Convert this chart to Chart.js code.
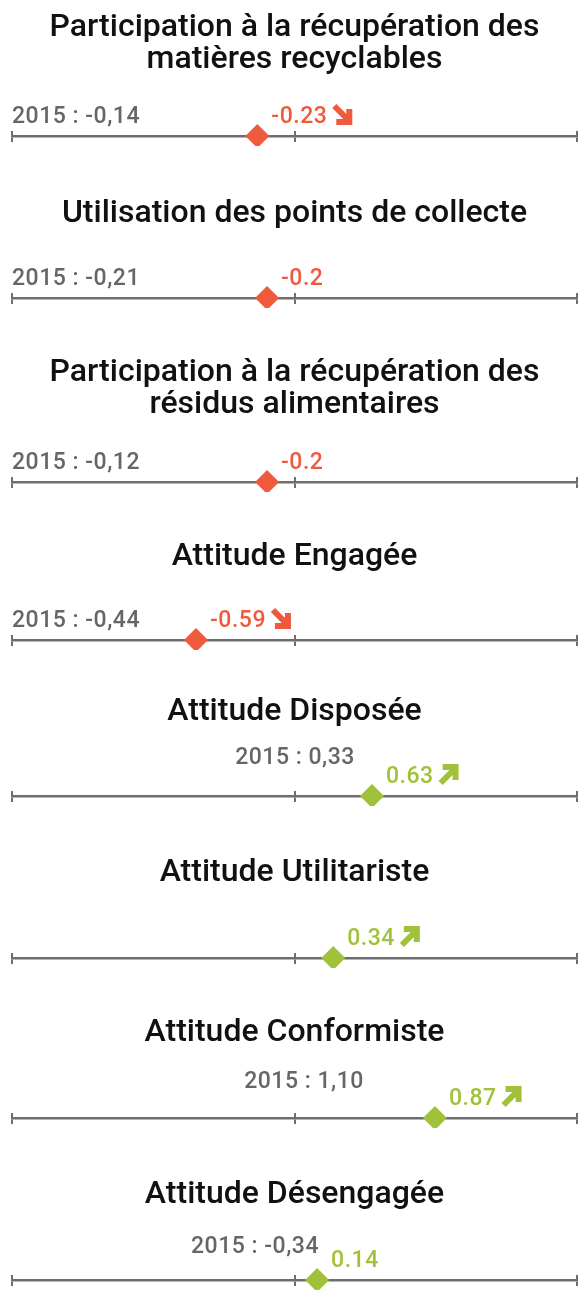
<!DOCTYPE html>
<html>
<head>
<meta charset="utf-8">
<script src="https://cdn.jsdelivr.net/npm/chart.js@4.4.1/dist/chart.umd.min.js"></script>
<style>
  body { margin: 0; background: #fff; width: 582px; height: 1290px; position: relative; overflow: hidden; }
  .panel { position: absolute; left: 0; width: 582px; }
  .panel canvas { display: block; }
</style>
</head>
<body>
<div id="wrap"></div>
<script>
// Data
const titles = [
    ['Participation à la récupération des', 'matières recyclables'],
    'Utilisation des points de collecte',
    ['Participation à la récupération des', 'résidus alimentaires'],
    'Attitude Engagée',
    'Attitude Disposée',
    'Attitude Utilitariste',
    'Attitude Conformiste',
    'Attitude Désengagée'
];
const markerValues = [-0.23, -0.17, -0.17, -0.61, 0.48, 0.24, 0.87, 0.14];
const valueLabels = ['-0.23', '-0.2', '-0.2', '-0.59', '0.63', '0.34', '0.87', '0.14'];
const trends = ['down', null, null, 'down', 'up', 'up', 'up', null];
const labels2015 = ['2015 : -0,14', '2015 : -0,21', '2015 : -0,12', '2015 : -0,44', '2015 : 0,33', null, '2015 : 1,10', '2015 : -0,34'];
const tickValues = [-1.75, 0, 1.75];

// Layout (pixels)
const panelTops = [4, 190, 349, 533, 688, 849, 1009, 1171];
const panelHeights = [142, 118, 143, 117, 118, 119, 119, 119];
const prevCenterX = [null, null, null, null, 295, null, 304, 255];
const prevRaise = [13, 13, 13, 13, 32, 0, 30, 27];

const RED = '#ef5a3d';
const GREEN = '#a2c13a';
const GREY = '#666666';
const AXIS = '#6e6e6e';
const labelFont = "500 23px Roboto, sans-serif";

function drawArrow(ctx, x, baseY, dir, color) {
    const s = 16, h = 13, top = baseY - 17;
    ctx.save();
    ctx.strokeStyle = color;
    ctx.lineWidth = 6;
    ctx.lineCap = 'butt';
    ctx.lineJoin = 'miter';
    ctx.beginPath();
    if (dir === 'down') {
        ctx.moveTo(x + 1, top);
        ctx.lineTo(x + s, top + s - 1);
        ctx.moveTo(x + s, top + s - h);
        ctx.lineTo(x + s, top + s);
        ctx.lineTo(x + s - h, top + s);
    } else {
        ctx.moveTo(x + 1, top + s + 1);
        ctx.lineTo(x + s, top + 2);
        ctx.moveTo(x + s - h, top + 1);
        ctx.lineTo(x + s, top + 1);
        ctx.lineTo(x + s, top + 1 + h);
    }
    ctx.stroke();
    ctx.restore();
}

const labelPlugin = {
    id: 'scoreLabels',
    afterDatasetsDraw(chart, args, opts) {
        const i = opts.index;
        const ctx = chart.ctx;
        const axisY = chart.chartArea.bottom;
        const mx = chart.scales.x.getPixelForValue(markerValues[i]);
        const color = markerValues[i] < 0 ? RED : GREEN;

        ctx.save();
        ctx.font = labelFont;
        ctx.textBaseline = 'alphabetic';
        ctx.letterSpacing = '0.5px';

        // current value + trend arrow
        ctx.fillStyle = color;
        ctx.textAlign = 'left';
        const tx = mx + 14, ty = axisY - 13;
        ctx.fillText(valueLabels[i], tx, ty);
        const w = ctx.measureText(valueLabels[i]).width;
        if (trends[i]) drawArrow(ctx, tx + w + 6, ty, trends[i], color);

        // 2015 reference
        if (labels2015[i]) {
            ctx.fillStyle = GREY;
            if (prevCenterX[i] === null) {
                ctx.textAlign = 'left';
                ctx.fillText(labels2015[i], chart.chartArea.left, axisY - prevRaise[i]);
            } else {
                ctx.textAlign = 'center';
                ctx.fillText(labels2015[i], prevCenterX[i], axisY - prevRaise[i]);
            }
        }
        ctx.restore();
    }
};

document.addEventListener('DOMContentLoaded', function () {
    const wrap = document.getElementById('wrap');
    titles.forEach((title, i) => {
        const div = document.createElement('div');
        div.className = 'panel';
        div.style.top = panelTops[i] + 'px';
        div.style.height = panelHeights[i] + 'px';
        const canvas = document.createElement('canvas');
        canvas.width = 582;
        canvas.height = panelHeights[i];
        div.appendChild(canvas);
        wrap.appendChild(div);

        const nLines = Array.isArray(title) ? title.length : 1;
        const titlePadBottom = panelHeights[i] - 23 - 32 * nLines;
        const color = markerValues[i] < 0 ? RED : GREEN;

        new Chart(canvas, {
            type: 'scatter',
            data: {
                datasets: [{
                    data: [{ x: markerValues[i], y: 0 }],
                    pointStyle: 'rectRot',
                    pointRadius: 12,
                    backgroundColor: color,
                    borderWidth: 0,
                    clip: false
                }]
            },
            options: {
                responsive: false,
                animation: false,
                events: [],
                layout: { autoPadding: false, padding: { left: 12, right: 5, top: 0, bottom: 4 } },
                plugins: {
                    legend: { display: false },
                    tooltip: { enabled: false },
                    title: {
                        display: true,
                        text: title,
                        color: '#111111',
                        font: { family: 'Roboto', size: 32, weight: 500, lineHeight: 1.0 },
                        padding: { top: 8, bottom: titlePadBottom }
                    },
                    scoreLabels: { index: i }
                },
                scales: {
                    x: {
                        type: 'linear',
                        min: tickValues[0],
                        max: tickValues[tickValues.length - 1],
                        afterBuildTicks: s => { s.ticks = tickValues.map(v => ({ value: v })); },
                        ticks: { display: false },
                        grid: { color: AXIS, lineWidth: 2, tickLength: 6, drawTicks: true },
                        border: { color: AXIS, width: 2.5 }
                    },
                    y: { display: false, min: 0, max: 1 }
                }
            },
            plugins: [labelPlugin]
        });
    });
});
</script>
</body>
</html>
